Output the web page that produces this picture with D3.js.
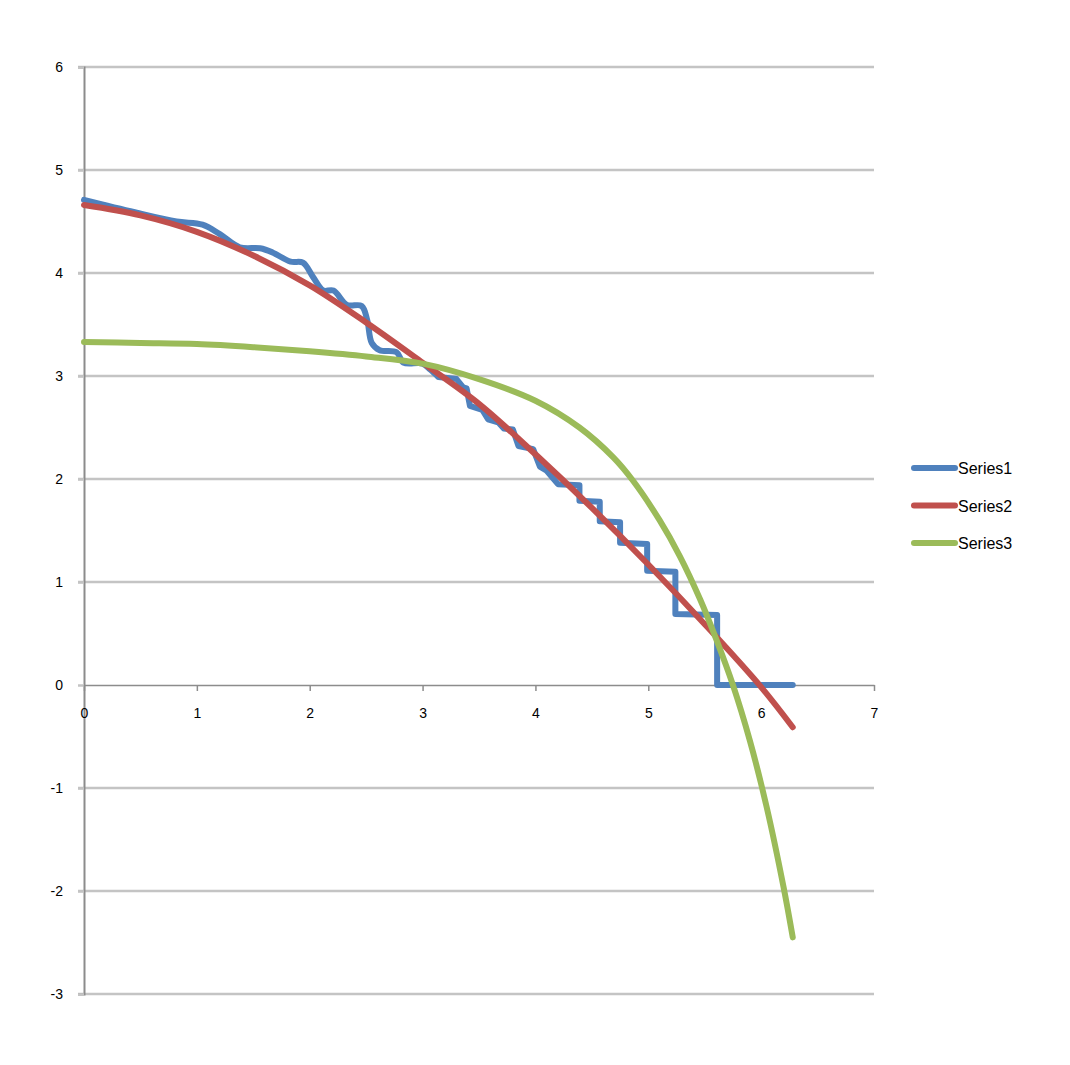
<!DOCTYPE html>
<html>
<head>
<meta charset="utf-8">
<script src="https://cdn.jsdelivr.net/npm/d3@7"></script>
<style>
  body { margin: 0; background: #fff; }
  text { font-family: "Liberation Sans", Arial, sans-serif; fill: #000; }
</style>
</head>
<body>
<svg id="chart"></svg>
<script>
// values
const series1X = [0, 0.45, 0.82, 1.05, 1.2, 1.38, 1.56, 1.67, 1.83, 1.94, 2.03, 2.12, 2.21, 2.33, 2.46, 2.51, 2.55, 2.62, 2.77, 2.83,
  3.0, 3.07, 3.14, 3.3, 3.36, 3.39, 3.42, 3.53, 3.58, 3.67, 3.72, 3.8, 3.85, 3.98, 4.04, 4.1, 4.2, 4.39, 4.39, 4.57,
  4.57, 4.75, 4.75, 4.99, 4.99, 5.24, 5.24, 5.61, 5.61, 6.28];
const series1Y = [4.71, 4.59, 4.50, 4.47, 4.38, 4.25, 4.24, 4.20, 4.11, 4.10, 3.96, 3.83, 3.83, 3.69, 3.68, 3.54, 3.32, 3.25, 3.23, 3.13,
  3.12, 3.06, 2.99, 2.97, 2.89, 2.88, 2.71, 2.67, 2.58, 2.55, 2.49, 2.48, 2.32, 2.29, 2.12, 2.08, 1.95, 1.94, 1.79, 1.78,
  1.59, 1.58, 1.38, 1.37, 1.11, 1.10, 0.69, 0.68, 0, 0];
// the wavy part of series 1 is smoothed, the stairs after this x are drawn straight
const series1SmoothUntil = 3.14;

const series2X = [0, 0.5, 1.0, 1.5, 2.0, 2.5, 3.0, 3.5, 4.0, 4.5, 5.0, 5.5, 6.0, 6.28];
const series2Y = [4.66, 4.56, 4.40, 4.17, 3.88, 3.52, 3.13, 2.73, 2.24, 1.72, 1.17, 0.59, -0.02, -0.41];

const series3X = [0, 0.5, 1.0, 1.5, 2.0, 2.5, 3.0, 3.5, 4.0, 4.39, 4.69, 4.86, 5.1, 5.28, 5.46, 5.6, 5.75, 5.9, 6.05, 6.2, 6.28];
const series3Y = [3.33, 3.32, 3.31, 3.28, 3.24, 3.19, 3.12, 2.97, 2.76, 2.50, 2.21, 1.99, 1.60, 1.25, 0.83, 0.45, 0.0, -0.54, -1.19, -1.97, -2.45];

const seriesNames = ["Series1", "Series2", "Series3"];
const seriesColors = ["#4f81bd", "#c0504d", "#9bbb59"];
const xTicks = [0, 1, 2, 3, 4, 5, 6, 7];
const yTicks = [-3, -2, -1, 0, 1, 2, 3, 4, 5, 6];

const W = 1070, H = 1065;
const margin = { top: 67, right: 196, bottom: 71, left: 84 };

const svg = d3.select("#chart").attr("width", W).attr("height", H);
svg.append("rect").attr("width", W).attr("height", H).attr("fill", "#fff");

const x = d3.scaleLinear().domain([0, 7]).range([margin.left, W - margin.right]);
const y = d3.scaleLinear().domain([-3, 6]).range([H - margin.bottom, margin.top]);

// horizontal gridlines (with the small outward tick on the left)
svg.append("g")
  .selectAll("line")
  .data(yTicks.filter((d) => d !== 0))
  .join("line")
  .attr("x1", x(0) - 6)
  .attr("x2", x(7))
  .attr("y1", (d) => y(d))
  .attr("y2", (d) => y(d))
  .attr("stroke", "#c4c4c4")
  .attr("stroke-width", 2.5);

// y axis
const yAxis = svg.append("g")
  .attr("transform", `translate(${x(0)},0)`)
  .call(d3.axisLeft(y).tickValues(yTicks).tickSize(6).tickPadding(15).tickFormat((d) => String(d)));
yAxis.select(".domain").attr("stroke", "#8c8c8c").attr("stroke-width", 2);
yAxis.selectAll(".tick line").attr("stroke", "#c4c4c4").attr("stroke-width", 2.5);
yAxis.selectAll("text").style("font-size", "14px");

// x axis at y = 0
const xAxis = svg.append("g")
  .attr("transform", `translate(0,${y(0)})`)
  .call(d3.axisBottom(x).tickValues(xTicks).tickSize(6).tickPadding(17).tickSizeOuter(0).tickFormat((d) => String(d)));
xAxis.select(".domain").attr("stroke", "#8c8c8c").attr("stroke-width", 1.5);
xAxis.selectAll(".tick line").attr("stroke", "#8c8c8c").attr("stroke-width", 1.5);
xAxis.selectAll("text").style("font-size", "14px");

const smoothLine = d3.line()
  .x((d) => x(d[0]))
  .y((d) => y(d[1]))
  .curve(d3.curveCatmullRom.alpha(0.5));
const straightLine = d3.line()
  .x((d) => x(d[0]))
  .y((d) => y(d[1]));

const pts1 = d3.zip(series1X, series1Y);
const cut = pts1.findIndex((d) => d[0] >= series1SmoothUntil);
const path1 = smoothLine(pts1.slice(0, cut + 1)) + straightLine(pts1.slice(cut)).replace(/^M/, "L");

const series = [
  { name: seriesNames[0], color: seriesColors[0], d: path1 },
  { name: seriesNames[1], color: seriesColors[1], d: smoothLine(d3.zip(series2X, series2Y)) },
  { name: seriesNames[2], color: seriesColors[2], d: smoothLine(d3.zip(series3X, series3Y)) },
];

series.forEach((s) => {
  svg.append("path")
    .attr("d", s.d)
    .attr("fill", "none")
    .attr("stroke", s.color)
    .attr("stroke-width", 6)
    .attr("stroke-linecap", "round")
    .attr("stroke-linejoin", "round");
});

// legend
const legend = svg.append("g").attr("transform", "translate(914,468)");
const rows = legend.selectAll("g")
  .data(series)
  .join("g")
  .attr("transform", (d, i) => `translate(0,${i * 37.5})`);
rows.append("line")
  .attr("x1", 0).attr("x2", 41)
  .attr("y1", 0).attr("y2", 0)
  .attr("stroke", (d) => d.color)
  .attr("stroke-width", 6)
  .attr("stroke-linecap", "round");
rows.append("text")
  .attr("x", 44)
  .attr("y", 6)
  .style("font-size", "16px")
  .text((d) => d.name);
</script>
</body>
</html>
